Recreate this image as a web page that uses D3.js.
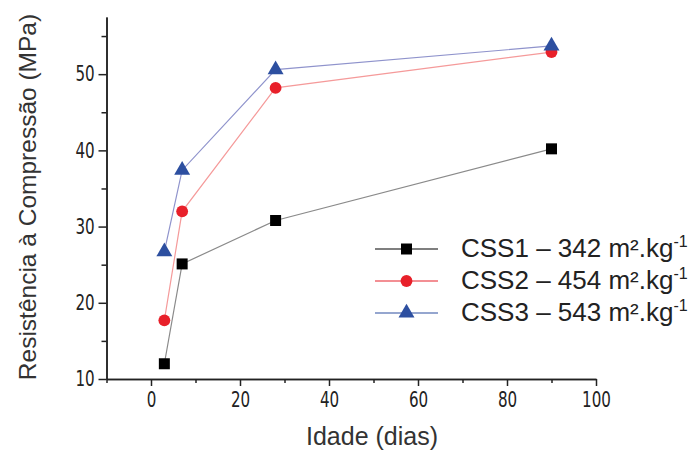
<!DOCTYPE html>
<html><head><meta charset="utf-8">
<script src="https://cdn.jsdelivr.net/npm/d3@7"></script>
<style>body{margin:0;background:#fff}</style>
</head><body>
<svg id="c" width="696" height="453"></svg>
<script>
const days = [3, 7, 28, 90];
const css1 = [12.0, 25.1, 30.8, 40.2];
const css2 = [17.7, 32.0, 48.2, 52.9];
const css3 = [26.7, 37.4, 50.6, 53.7];
const seriesNames = ["CSS1 \u2013 342 m\u00b2.kg", "CSS2 \u2013 454 m\u00b2.kg", "CSS3 \u2013 543 m\u00b2.kg"];
const xTicks = [0, 20, 40, 60, 80, 100];
const yTicks = [10, 20, 30, 40, 50];

const svg = d3.select("#c");
const x = d3.scaleLinear().domain([-10, 100]).range([106.5, 596]);
const y = d3.scaleLinear().domain([10, 57.5]).range([379, 17]);
const tickFont = "'DejaVu Sans Condensed', 'DejaVu Sans', sans-serif";

// axes
const xa = svg.append("g").attr("transform", "translate(0,379)")
  .call(d3.axisBottom(x).tickValues(xTicks).tickSize(7).tickSizeOuter(0).tickPadding(6));
const xm = svg.append("g").attr("transform", "translate(0,379)")
  .call(d3.axisBottom(x).tickValues([-10,10,30,50,70,90]).tickSize(4).tickSizeOuter(0).tickFormat(""));
const ya = svg.append("g").attr("transform", "translate(106.5,0)")
  .call(d3.axisLeft(y).tickValues(yTicks).tickSize(8).tickSizeOuter(0).tickPadding(3));
const ym = svg.append("g").attr("transform", "translate(106.5,0)")
  .call(d3.axisLeft(y).tickValues([15,25,35,45,55]).tickSize(5).tickSizeOuter(0).tickFormat(""));
[xa, xm, ya, ym].forEach(g => {
  g.selectAll("path").attr("stroke", "#222").attr("stroke-width", 1.5);
  g.selectAll("line").attr("stroke", "#222").attr("stroke-width", 1.5);
  g.selectAll("text").attr("font-family", tickFont).attr("font-size", 21).attr("fill", "#222");
});
// narrow the tick digits horizontally around their anchor
xa.selectAll(".tick text").attr("transform", "scale(0.8,1)");
ya.selectAll(".tick text").attr("transform", "translate(-11,0) scale(0.8,1)").attr("x", -1);

// titles
svg.append("text").attr("x", 372).attr("y", 445).attr("text-anchor", "middle")
  .attr("font-family", "'Liberation Sans', Arial, sans-serif").attr("font-size", 25).attr("fill", "#333")
  .text("Idade (dias)");
svg.append("text").attr("transform", "translate(36,197) rotate(-90)").attr("text-anchor", "middle")
  .attr("font-family", "'Liberation Sans', Arial, sans-serif").attr("font-size", 24.5).attr("fill", "#333")
  .text("Resist\u00eancia \u00e0 Compress\u00e3o (MPa)");

const series = [
  {vals: css1, line: "#8a8a8a", leg: "#000", fill: "#000", shape: "square"},
  {vals: css2, line: "#f59a9a", leg: "#e8202a", fill: "#e8202a", shape: "circle"},
  {vals: css3, line: "#8f93cc", leg: "#2d4fa0", fill: "#2d4fa0", shape: "triangle"}
];
const sym = {
  square: d3.symbol().type(d3.symbolSquare).size(121),
  circle: d3.symbol().type(d3.symbolCircle).size(110),
  triangle: d3.symbol().type(d3.symbolTriangle).size(110)
};
const line = d3.line().x(d => x(d[0])).y(d => y(d[1]));
series.forEach(s => {
  const pts = days.map((d, i) => [d, s.vals[i]]);
  svg.append("path").attr("d", line(pts)).attr("fill", "none").attr("stroke", s.line).attr("stroke-width", 1.2);
});
series.forEach(s => {
  days.forEach((d, i) => {
    svg.append("path").attr("d", sym[s.shape]())
      .attr("transform", `translate(${x(d)},${y(s.vals[i])})`).attr("fill", s.fill);
  });
});

// legend
const legY = [249, 281, 313];
series.forEach((s, i) => {
  const g = svg.append("g").attr("transform", `translate(0,${legY[i]})`);
  g.append("line").attr("x1", 375).attr("x2", 438).attr("y1", 0).attr("y2", 0)
    .attr("stroke", s.leg).attr("stroke-width", 1.2);
  g.append("path").attr("d", sym[s.shape]()).attr("transform", "translate(406.5,0)").attr("fill", s.fill);
  const t = g.append("text").attr("x", 461).attr("y", 8)
    .attr("font-family", "'Liberation Sans', Arial, sans-serif").attr("font-size", 26).attr("fill", "#222");
  t.append("tspan").text(seriesNames[i]);
  t.append("tspan").attr("dy", -10).attr("font-size", 16).text("-1");
});
</script>
</body></html>
